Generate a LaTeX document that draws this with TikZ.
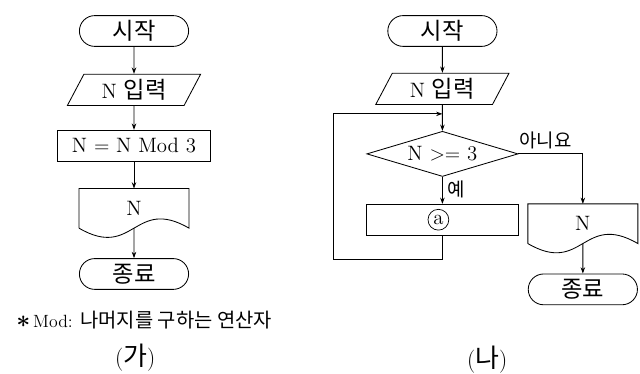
\documentclass[tikz,border=0pt]{standalone}
\usepackage{fontspec}
\newfontfamily\kr[Scale=1.12]{Noto Sans CJK KR}
\usetikzlibrary{positioning, arrows.meta, shapes.geometric, shapes.misc}

% outline of a document node (flat top, wavy bottom)
\newcommand{\docline}[1]{%
  \draw (#1.south west) -- (#1.north west) -- (#1.north east) -- (#1.south east)
    .. controls ([yshift=0.8cm]#1.south) and ([yshift=-0.8cm]#1.south) .. (#1.south west);}

\begin{document}
\begin{tikzpicture}[
        line width=0.6pt,
        font=\fontsize{14.8}{17}\selectfont,
        term/.style={rounded rectangle, draw, minimum width=2.73cm, minimum height=0.77cm, inner sep=0pt},
        io/.style={trapezium, trapezium left angle=52, trapezium right angle=128, trapezium stretches body, draw, minimum width=3.33cm, minimum height=0.78cm, inner sep=0pt},
        proc/.style={rectangle, draw, minimum height=0.77cm, inner sep=0pt},
        cond/.style={diamond, aspect=3.35, draw, minimum width=3.78cm, minimum height=1.13cm, inner sep=0pt},
        docu/.style={rectangle, minimum width=2.73cm, minimum height=0.97cm, inner sep=0pt},
        lbl/.style={font=\fontsize{12}{15}\selectfont},
        caption/.style={font=\fontsize{16.5}{19}\selectfont},
        arrow/.style={-{Stealth[length=4.5pt, width=3.2pt]}}
    ]
        \useasboundingbox (0,0) rectangle (16,9.325);

        % Nodes (ga)
        \node[term] (start1) at (3.35,8.55) {\kr 시작};
        \node[io, below=0.675cm of start1] (in1) {N \kr 입력};
        \node[proc, minimum width=3.83cm, below=0.6cm of in1] (calc1) {N $=$ N Mod 3};
        \node[docu, below=0.675cm of calc1] (out1) {N};
        \node[term, below=0.75cm of out1] (end1) {\kr 종료};
        \node[anchor=west, font=\fontsize{12.6}{15}\selectfont] (note) at (0.28,1.33) {{\fontsize{17}{17}\selectfont\boldmath$\ast$}\,Mod: {\kr 나머지를 구하는 연산자}};
        \node[caption] (cap1) at (3.38,0.38) {({\kr 가})};

        % Nodes (na)
        \node[term] (start2) at (11.06,8.55) {\kr 시작};
        \node[io, below=0.65cm of start2] (in2) {N \kr 입력};
        \node[cond, below=0.65cm of in2] (test) {N $>=$ 3};
        \node[proc, minimum width=3.8cm, below=0.675cm of test] (stepa) {};
        \node[circle, draw, line width=0.5pt, inner sep=0pt, minimum size=0.52cm, xshift=-0.1cm] (marka) at (stepa) {a};
        \node[docu, below right=0cm and 0.225cm of stepa.north east] (out2) {N};
        \node[term, below=0.75cm of out2] (end2) {\kr 종료};
        \node[caption] (cap2) at (12.18,0.33) {({\kr 나})};

        \coordinate[below=0.225cm of in2] (join);
        \coordinate[below=0.6cm of stepa] (turn);
        \coordinate[left=2.73cm of turn] (corner);

        % Shapes
        \docline{out1}
        \docline{out2}

        % Paths
        \draw[arrow] (start1) -- (in1);
        \draw[arrow] (in1) -- (calc1);
        \draw[arrow] (calc1) -- (out1);
        \draw[arrow] (out1.south) -- (end1);

        \draw[arrow] (start2) -- (in2);
        \draw[arrow] (in2) -- (test);
        \draw[arrow] (test) -- node[right, pos=0.45, lbl] {\kr 예} (stepa);
        \draw[arrow] (test.east) -| node[pos=0, above right, xshift=-3pt, lbl] {\kr 아니요} (out2.north);
        \draw[arrow] (stepa.south) -- (turn) -- (corner) |- (join);
        \draw[arrow] (out2.south) -- (end2);
    \end{tikzpicture}
\end{document}
